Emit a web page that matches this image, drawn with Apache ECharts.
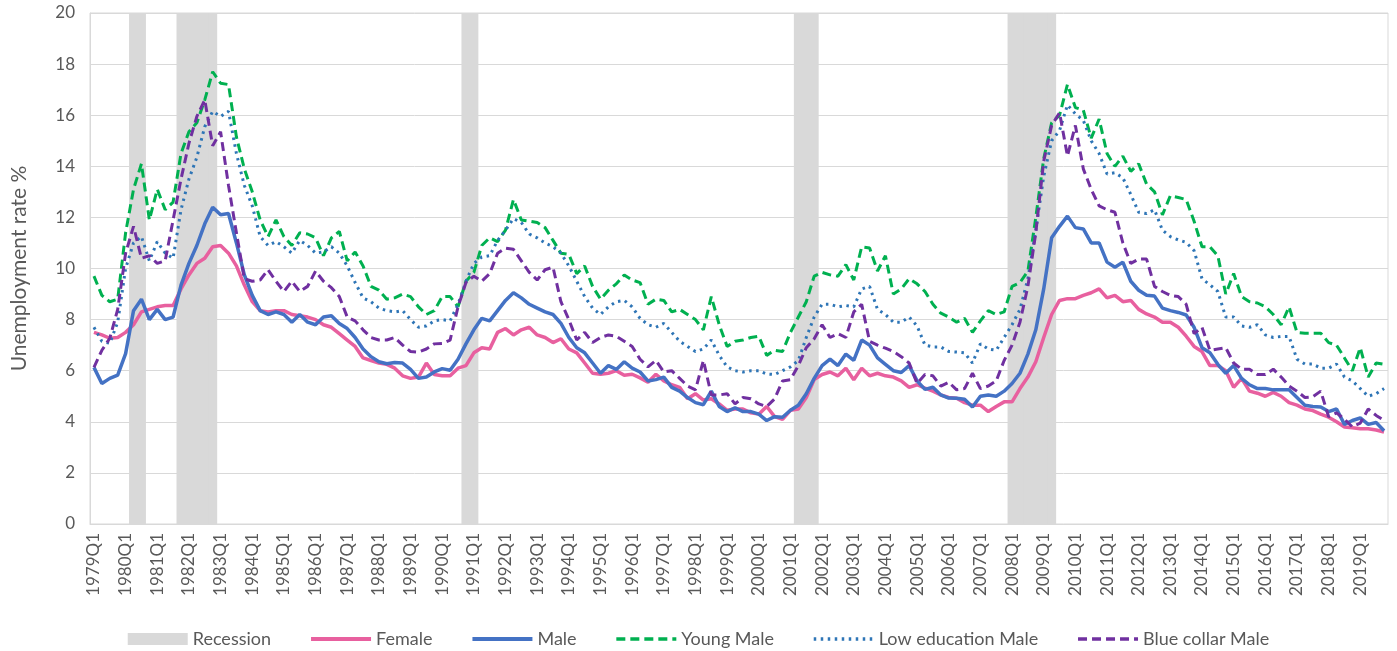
<!DOCTYPE html>
<html>
<head>
<meta charset="utf-8">
<title>Unemployment rate</title>
<script src="https://cdn.jsdelivr.net/npm/echarts@6/dist/echarts.min.js"></script>
<style>
  html, body { margin: 0; padding: 0; background: #fff; }
  #chart { width: 1397px; height: 651px; }
</style>
</head>
<body>
<div id="chart"></div>
<script>
// quarterly categories 1979Q1 .. 2019Q4
const years = [];
for (let y = 1979; y <= 2019; y++) years.push(y);
const quarters = [];
years.forEach(y => { for (let q = 1; q <= 4; q++) quarters.push(y + 'Q' + q); });

// recession periods (first and last quarter)
const recessionPeriods = [
  ['1980Q2', '1980Q3'],
  ['1981Q4', '1982Q4'],
  ['1990Q4', '1991Q1'],
  ['2001Q2', '2001Q4'],
  ['2008Q1', '2009Q2']
];
const recessionHeight = 20;

// one row per year, Q1..Q4
const female = [
  7.5, 7.4, 7.27, 7.3,
  7.5, 7.8, 8.3, 8.4,
  8.5, 8.55, 8.55, 9.2,
  9.75, 10.2, 10.4, 10.85,
  10.9, 10.6, 10.1, 9.35,
  8.7, 8.35, 8.3, 8.35,
  8.35, 8.2, 8.15, 8.1,
  8.0, 7.8, 7.7, 7.45,
  7.2, 6.95, 6.5, 6.4,
  6.3, 6.25, 6.1, 5.8,
  5.7, 5.75, 6.3, 5.85,
  5.8, 5.8, 6.1, 6.2,
  6.7, 6.9, 6.85, 7.5,
  7.65, 7.4, 7.6, 7.7,
  7.4, 7.3, 7.1, 7.25,
  6.85, 6.7, 6.3, 5.9,
  5.86, 5.9, 6.0, 5.82,
  5.86, 5.72, 5.55, 5.86,
  5.6, 5.45, 5.35, 4.9,
  5.1, 4.85, 4.9, 4.7,
  4.45, 4.5, 4.5, 4.35,
  4.3, 4.6, 4.2, 4.1,
  4.45, 4.5, 4.95, 5.65,
  5.85, 5.95, 5.8, 6.1,
  5.65, 6.1, 5.8, 5.9,
  5.8, 5.75, 5.6, 5.35,
  5.45, 5.32, 5.2, 5.05,
  4.95, 4.92, 4.75, 4.65,
  4.65, 4.4, 4.6, 4.78,
  4.78, 5.3, 5.75, 6.35,
  7.3, 8.2, 8.75, 8.82,
  8.82, 8.95, 9.05, 9.2,
  8.85, 8.95, 8.7, 8.75,
  8.4, 8.22, 8.1, 7.9,
  7.9, 7.7, 7.35, 6.95,
  6.75, 6.2, 6.2, 6.0,
  5.35, 5.7, 5.2, 5.12,
  5.0, 5.15, 5.0, 4.75,
  4.65, 4.5, 4.44, 4.3,
  4.18, 4.0, 3.8, 3.77,
  3.73, 3.73, 3.68, 3.6
];

const male = [
  6.13, 5.5, 5.7, 5.83,
  6.67, 8.35, 8.8, 8.0,
  8.4, 8.0, 8.1, 9.35,
  10.2, 10.9, 11.75, 12.4,
  12.1, 12.15, 11.0, 9.75,
  8.95, 8.35, 8.2, 8.3,
  8.2, 7.9, 8.2, 7.9,
  7.8, 8.1, 8.15, 7.85,
  7.65, 7.3, 6.85, 6.55,
  6.35, 6.27, 6.32, 6.3,
  6.05, 5.7, 5.75, 5.95,
  6.08, 6.02, 6.45, 7.05,
  7.6, 8.05, 7.95, 8.35,
  8.75, 9.05, 8.85, 8.6,
  8.45, 8.3, 8.2, 7.85,
  7.3, 6.9, 6.7, 6.3,
  5.9, 6.2, 6.05, 6.35,
  6.1, 5.95, 5.6, 5.65,
  5.75, 5.35, 5.2, 4.95,
  4.75, 4.67, 5.2, 4.6,
  4.4, 4.55, 4.4, 4.4,
  4.3, 4.05, 4.2, 4.18,
  4.45, 4.65, 5.1, 5.7,
  6.2, 6.45, 6.2, 6.65,
  6.4, 7.2, 7.0, 6.5,
  6.25, 6.0, 5.93, 6.2,
  5.6, 5.27, 5.35, 5.05,
  4.93, 4.92, 4.88, 4.58,
  5.0, 5.05, 5.0, 5.2,
  5.5, 5.9, 6.65, 7.6,
  9.2, 11.2, 11.65, 12.05,
  11.6, 11.55, 11.0, 11.0,
  10.25, 10.05, 10.25, 9.5,
  9.15, 8.95, 8.92, 8.45,
  8.35, 8.28, 8.18, 7.7,
  6.9, 6.7, 6.25, 5.9,
  6.2, 5.7, 5.45, 5.3,
  5.3, 5.25, 5.25, 5.25,
  4.95, 4.65, 4.6, 4.58,
  4.4, 4.5, 3.9, 4.05,
  4.15, 3.9, 3.97, 3.65
];

const youngMale = [
  9.7, 8.95, 8.7, 8.8,
  11.4, 13.1, 14.1, 11.9,
  13.1, 12.3, 12.6, 14.5,
  15.35, 15.7, 16.6, 17.7,
  17.25, 17.2, 15.15, 13.9,
  13.0, 11.9, 11.25, 11.9,
  11.25, 10.9, 11.4, 11.35,
  11.2, 10.5, 11.2, 11.45,
  10.3, 10.65, 10.1, 9.3,
  9.15, 8.8, 8.85, 9.0,
  8.9, 8.5, 8.2, 8.35,
  8.9, 8.9, 8.5, 9.5,
  9.85, 10.9, 11.2, 11.05,
  11.5, 12.7, 11.9, 11.85,
  11.8, 11.6, 11.1, 10.6,
  10.55, 9.8, 10.1, 9.3,
  8.8, 9.15, 9.4, 9.75,
  9.55, 9.45, 8.6, 8.8,
  8.75, 8.3, 8.4, 8.2,
  8.0, 7.6, 8.9, 7.8,
  6.95, 7.15, 7.2, 7.3,
  7.35, 6.6, 6.8, 6.75,
  7.5, 8.1, 8.7, 9.7,
  9.85, 9.75, 9.7, 10.15,
  9.55, 10.85, 10.8, 9.9,
  10.5, 9.0, 9.2, 9.6,
  9.4, 9.1, 8.6, 8.25,
  8.1, 7.9, 8.05, 7.5,
  7.95, 8.35, 8.2, 8.3,
  9.3, 9.45, 9.9, 12.0,
  14.3, 15.7, 16.0, 17.2,
  16.3, 16.2, 15.1, 15.85,
  14.5, 14.0, 14.4, 13.8,
  14.1, 13.3, 13.0, 12.1,
  12.85, 12.78, 12.7, 11.85,
  10.85, 10.85, 10.5, 9.0,
  9.8, 8.9, 8.7, 8.65,
  8.5, 8.2, 7.8, 8.5,
  7.5, 7.47, 7.47, 7.47,
  7.1, 7.0, 6.5, 6.0,
  6.9, 5.75, 6.3, 6.25
];

const lowEduMale = [
  7.7, 7.15, 7.07, 7.9,
  10.0, 11.0, 11.25, 10.3,
  11.05, 10.6, 10.4, 12.3,
  13.5, 14.35, 15.55, 16.15,
  15.95, 16.15, 14.5, 13.25,
  12.45, 11.25, 10.9, 11.05,
  10.85, 10.6, 11.1, 10.9,
  10.6, 10.65, 10.85, 10.6,
  10.1, 9.45, 8.85, 8.7,
  8.45, 8.35, 8.3, 8.35,
  8.0, 7.7, 7.75, 7.95,
  8.0, 7.95, 8.6, 9.5,
  10.2, 10.45, 10.5, 11.1,
  11.5, 11.95, 11.8, 11.35,
  11.2, 11.0, 10.85, 10.6,
  10.1, 9.5, 8.9, 8.45,
  8.2, 8.5, 8.7, 8.75,
  8.5, 8.05, 7.8, 7.7,
  7.85, 7.5, 7.15, 6.95,
  6.75, 6.85, 7.2, 6.6,
  6.15, 6.0, 5.95, 6.0,
  6.0, 5.87, 5.85, 6.0,
  6.15, 6.4, 7.3, 8.1,
  8.6, 8.6, 8.5, 8.55,
  8.5, 9.2, 9.3, 8.4,
  8.2, 7.9, 7.9, 8.1,
  7.75, 7.0, 6.93, 6.93,
  6.75, 6.73, 6.7, 6.3,
  7.05, 6.85, 6.8, 7.3,
  7.8, 8.4, 9.6, 11.5,
  13.6, 15.0, 15.4, 16.4,
  16.05, 15.8, 15.0, 14.5,
  13.7, 13.75, 13.55, 12.9,
  12.2, 12.15, 12.3, 11.5,
  11.25, 11.12, 11.02, 10.7,
  9.6, 9.36, 9.1, 8.1,
  8.1, 7.75, 7.7, 7.8,
  7.4, 7.3, 7.34, 7.34,
  6.45, 6.26, 6.26, 6.1,
  6.1, 6.26, 5.75, 5.6,
  5.3, 5.0, 5.1, 5.3
];

const blueCollarMale = [
  6.13, 6.8, 7.27, 8.4,
  10.6, 11.65, 10.4, 10.5,
  10.2, 10.3, 11.9, 13.5,
  14.9, 15.95, 16.6, 14.8,
  15.35, 13.25, 11.4, 9.6,
  9.5, 9.55, 9.95, 9.5,
  9.1, 9.5, 9.1, 9.3,
  9.9, 9.5, 9.25, 8.9,
  8.1, 7.95, 7.6, 7.3,
  7.2, 7.2, 7.3, 7.0,
  6.75, 6.73, 6.85, 7.05,
  7.07, 7.2, 8.5, 9.45,
  9.7, 9.5, 9.8, 10.6,
  10.8, 10.75, 10.3, 9.85,
  9.55, 9.95, 10.05, 8.7,
  8.0, 7.2, 7.5, 7.1,
  7.3, 7.4, 7.35, 7.15,
  6.95, 6.45, 6.15, 6.4,
  5.95, 6.0, 5.7, 5.4,
  5.25, 6.4, 5.05, 5.05,
  5.1, 4.7, 4.95, 4.9,
  4.7, 4.6, 4.9, 5.6,
  5.65, 6.2, 6.9, 7.25,
  7.8, 7.3, 7.45, 7.3,
  8.3, 8.6, 7.15, 7.0,
  6.88, 6.75, 6.55, 6.3,
  5.5, 5.85, 5.8, 5.4,
  5.55, 5.25, 5.3, 5.9,
  5.3, 5.4, 5.6, 6.4,
  7.0, 7.9, 9.3, 11.4,
  14.2, 15.6, 16.1, 14.4,
  15.6, 13.9, 13.1, 12.45,
  12.3, 12.2, 11.0, 10.2,
  10.37, 10.37, 9.3, 9.1,
  8.95, 8.9, 8.6, 7.45,
  7.7, 6.8, 6.85, 6.9,
  6.3, 6.06, 6.06, 5.85,
  5.85, 6.06, 5.75, 5.4,
  5.2, 4.95, 4.98, 5.2,
  4.2, 4.35, 4.1, 3.8,
  3.95, 4.5, 4.25, 4.05
];

// recession bars: full height inside each period, empty elsewhere
const recession = quarters.map(q => {
  const inside = recessionPeriods.some(p => q >= p[0] && q <= p[1]);
  return inside ? recessionHeight : '-';
});

const FONT = 'Lato, "Liberation Sans", sans-serif';
const TEXT = '#595959';
const GRID = '#d9d9d9';

const chart = echarts.init(document.getElementById('chart'));
const lineSeries = (name, data, color, width, type) => ({
  name: name,
  type: 'line',
  data: data,
  symbol: 'none',
  lineStyle: { color: color, width: width, type: type, cap: 'butt' },
  itemStyle: { color: color },
  animation: false
});
// legend entry for a line: keep the line, hide the marker
const lineLegend = (name, width) => ({
  name: name,
  itemStyle: { opacity: 0 },
  lineStyle: { width: width }
});

chart.setOption({
  animation: false,
  grid: {
    left: 90, right: 9, top: 13, bottom: 127,
    show: true, borderColor: GRID, borderWidth: 1
  },
  legend: {
    left: 'center',
    top: 630,
    padding: 0,
    itemWidth: 60,
    itemHeight: 12,
    itemGap: 38,
    textStyle: { fontFamily: FONT, fontSize: 18, color: TEXT },
    data: [
      { name: 'Recession', icon: 'rect' },
      lineLegend('Female', 4),
      lineLegend('Male', 4),
      lineLegend('Young Male', 3.5),
      lineLegend('Low education Male', 3.5),
      lineLegend('Blue collar Male', 3.5)
    ]
  },
  xAxis: {
    type: 'category',
    data: quarters,
    boundaryGap: true,
    axisLine: { lineStyle: { color: GRID } },
    axisTick: { interval: 3, length: 5, lineStyle: { color: GRID } },
    axisLabel: {
      interval: 3, rotate: 90, margin: 9,
      fontFamily: FONT, fontSize: 17, color: TEXT
    },
    splitLine: { show: false }
  },
  yAxis: {
    type: 'value',
    min: 0, max: 20, interval: 2,
    name: 'Unemployment rate %',
    nameLocation: 'middle',
    nameRotate: 90,
    nameGap: 60,
    nameTextStyle: { fontFamily: FONT, fontSize: 21, color: TEXT },
    axisLine: { show: true, lineStyle: { color: GRID } },
    axisTick: { show: false },
    axisLabel: { margin: 15, fontFamily: FONT, fontSize: 17, color: TEXT },
    splitLine: { lineStyle: { color: GRID, width: 1 } }
  },
  series: [
    {
      name: 'Recession',
      type: 'bar',
      data: recession,
      // slightly wider than a category so adjacent quarters merge into one band
      barWidth: 9,
      itemStyle: { color: '#d9d9d9' },
      emphasis: { disabled: true }
    },
    lineSeries('Female', female, '#e8609f', 3.5, 'solid'),
    lineSeries('Male', male, '#4472c4', 3.5, 'solid'),
    lineSeries('Young Male', youngMale, '#00b050', 3, [9, 5]),
    lineSeries('Low education Male', lowEduMale, '#2e75b6', 3, [2.5, 4.5]),
    lineSeries('Blue collar Male', blueCollarMale, '#7030a0', 3, [9, 5])
  ]
});
</script>
</body>
</html>
